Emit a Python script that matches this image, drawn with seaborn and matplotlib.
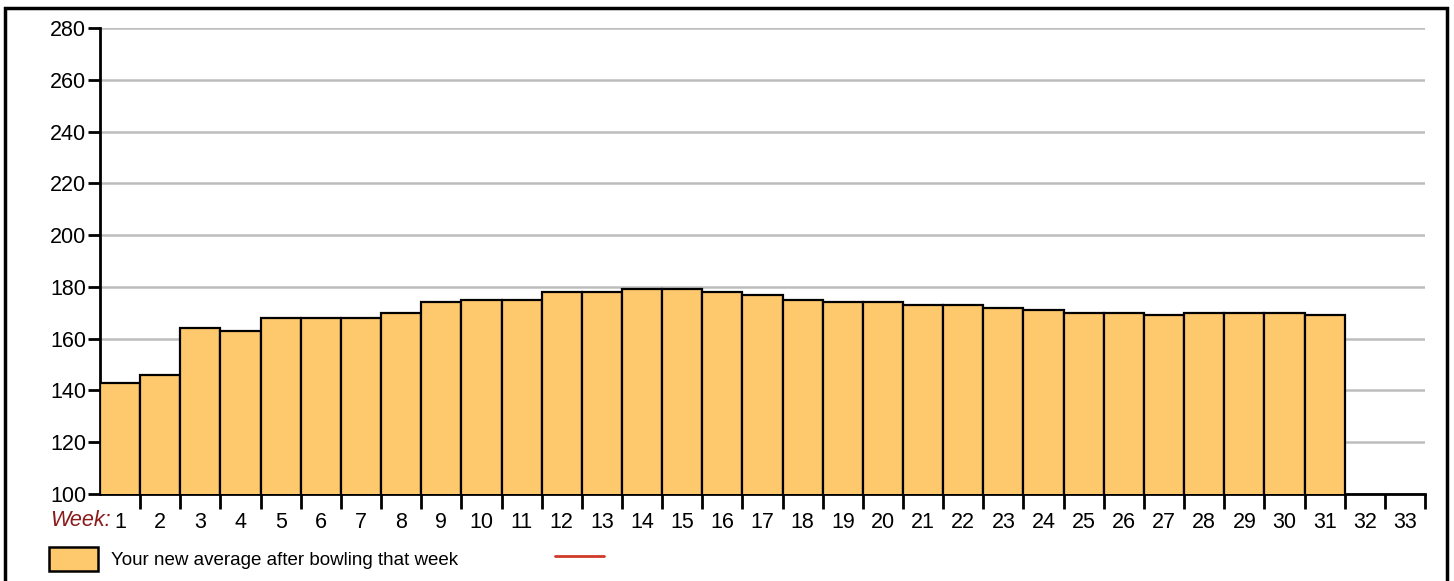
import seaborn as sns
import matplotlib.pyplot as plt
import pandas as pd
from matplotlib.patches import Patch, Rectangle
from matplotlib.lines import Line2D

sns.set_style("white")
plt.rcParams['font.family'] = ['Liberation Sans', 'DejaVu Sans']
plt.rcParams['text.color'] = 'black'
plt.rcParams['xtick.color'] = 'black'
plt.rcParams['ytick.color'] = 'black'
plt.rcParams['axes.edgecolor'] = 'black'

weeks = list(range(1, 34))
bowled_weeks = list(range(1, 32))
averages = [143, 146, 164, 163, 168, 168, 168, 170, 174, 175, 175, 178, 178, 179, 179,
            178, 177, 175, 174, 174, 173, 173, 172, 171, 170, 170, 169, 170, 170, 170, 169]
yticks = list(range(100, 281, 20))
legend_label = "Your new average after bowling that week"

bar_color = "#FEC96D"
df = pd.DataFrame({"week": bowled_weeks, "avg": averages})

fig = plt.figure(figsize=(14.54, 5.81), dpi=100)
ax = fig.add_axes([100 / 1454, 87 / 581, 1325 / 1454, 466 / 581])

sns.barplot(data=df, x="week", y="avg", order=weeks, color=bar_color, width=1.0,
            edgecolor="black", linewidth=1.6, saturation=1, ax=ax, zorder=3)

ax.set_ylim(100, 280)
ax.set_xlim(-0.5, len(weeks) - 0.5)
ax.set_yticks(yticks)
ax.yaxis.grid(True, color="#BDBDBD", linewidth=1.8, zorder=0)
ax.set_axisbelow(True)

for s in ["top", "right"]:
    ax.spines[s].set_visible(False)
ax.spines["left"].set_linewidth(2)
ax.spines["bottom"].set_linewidth(2)

ax.tick_params(axis="y", direction="out", length=9, width=2, labelsize=15.5, pad=1, left=True)
ax.set_xticks(range(len(weeks)))
ax.set_xticklabels([str(w) for w in weeks])
ax.tick_params(axis="x", which="major", length=0, labelsize=15.5, pad=13)
ax.set_xticks([i + 0.5 for i in range(len(weeks))], minor=True)
ax.tick_params(axis="x", which="minor", direction="out", length=11, width=2, bottom=True)
ax.set_xlabel("")
ax.set_ylabel("")

fig.text(50 / 1454, 1 - 521 / 581, "Week:", color="#8B1A1A", fontstyle="italic",
         fontsize=15.5, va="center", ha="left")

handles = [Patch(facecolor=bar_color, edgecolor="black", linewidth=1.8),
           Line2D([0], [0], color="#D03A28", linewidth=2)]
fig.legend(handles, [legend_label, " "], loc="upper left", ncol=2,
           bbox_to_anchor=(32 / 1454, 1 - 530 / 581), frameon=False,
           handlelength=2.6, handleheight=1.6, handletextpad=0.7,
           columnspacing=5.2, prop={"family": "Liberation Sans", "size": 13.5})

fig.add_artist(Rectangle((5 / 1454, -0.05), 1442 / 1454, 1.05 - 8 / 581,
                         transform=fig.transFigure, fill=False, edgecolor="black",
                         linewidth=2.5))

plt.savefig("out.png", dpi=100)
